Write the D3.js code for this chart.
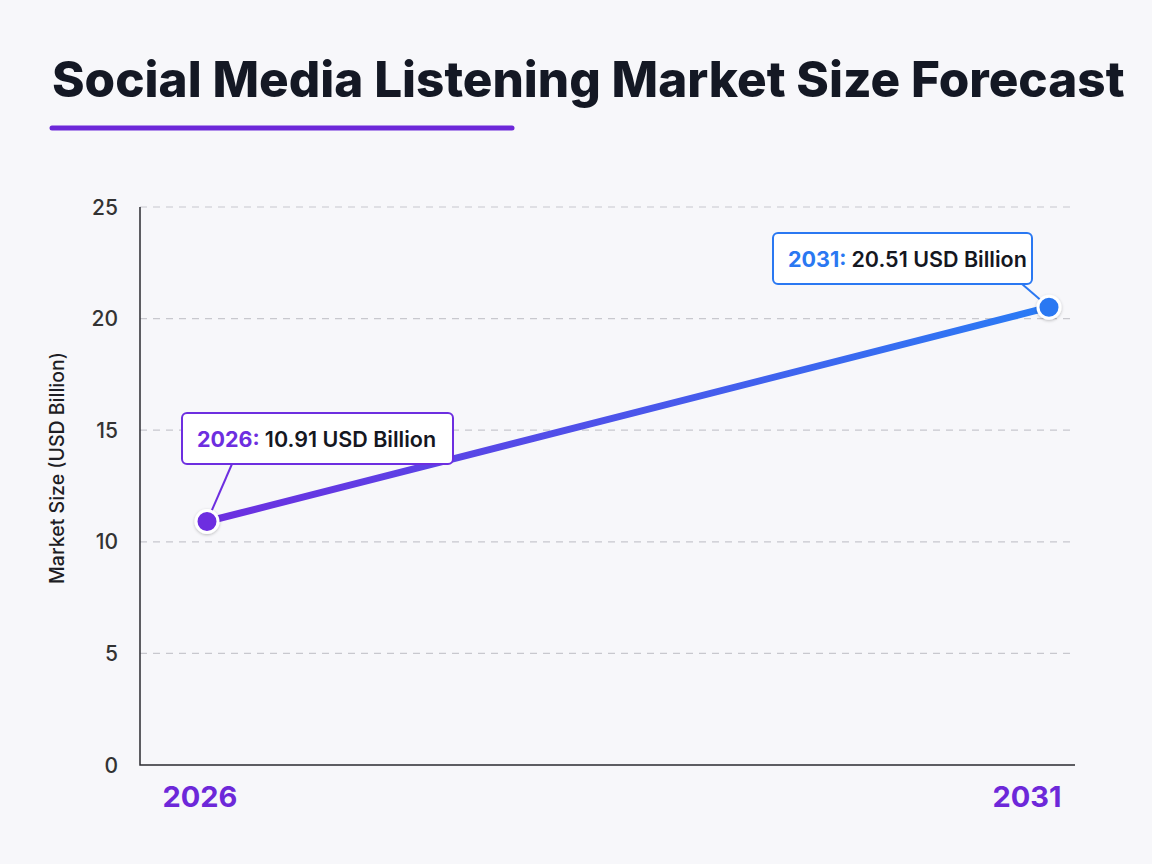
<!DOCTYPE html>
<html lang="en">
<head>
<meta charset="UTF-8">
<title>Social Media Listening Market Size Forecast</title>
<script src="https://cdn.jsdelivr.net/npm/d3@7"></script>
<style>
  body { margin: 0; background: #f7f7fa; }
  svg { display: block; }
  text { font-family: Inter, "Noto Sans", sans-serif; }
  .grid line { stroke: #c8c8ce; stroke-dasharray: 7 6; stroke-width: 1.2; }
  .ytick text { fill: #333; font-size: 21px; font-weight: 500; }
  .xtick text { fill: #6d28d9; font-size: 29px; font-weight: 700; }
</style>
</head>
<body>
<script>
// data
var years = [2026, 2031];
var marketSize = [10.91, 20.51];
var yTicks = [0, 5, 10, 15, 20, 25];
var pointColors = ["#6d2ee0", "#2a78f2"];

var width = 1152, height = 864;
var svg = d3.select("body").append("svg")
  .attr("width", width)
  .attr("height", height);

var defs = svg.append("defs");
var grad = defs.append("linearGradient")
  .attr("id", "lineGrad")
  .attr("gradientUnits", "userSpaceOnUse");
var shadow = defs.append("filter").attr("id", "shadow")
  .attr("x", "-50%").attr("y", "-50%").attr("width", "200%").attr("height", "200%");
shadow.append("feDropShadow").attr("dx", 0).attr("dy", 1).attr("stdDeviation", 1.5)
  .attr("flood-color", "#000").attr("flood-opacity", 0.25);

// title
var title = svg.append("text")
  .attr("x", 52).attr("y", 97)
  .attr("fill", "#141824")
  .style("font-size", "46px")
  .style("font-weight", 800)
  .text("Social Media Listening Market Size Forecast");
var tw = title.node().getComputedTextLength();
title.style("font-size", (46 * 1073 / tw) + "px");

svg.append("line")
  .attr("x1", 52).attr("x2", 512).attr("y1", 128).attr("y2", 128)
  .attr("stroke", "#6d28d9").attr("stroke-width", 5).attr("stroke-linecap", "round");

// scales
var plotL = 140, plotR = 1075, plotT = 207, plotB = 765;
var x = d3.scaleLinear().domain([2026, 2031]).range([207, 1049]);
var y = d3.scaleLinear().domain([0, 25]).range([plotB, plotT]);

// grid
svg.append("g").attr("class", "grid")
  .selectAll("line").data(yTicks.filter(function(d) { return d > 0; }))
  .enter().append("line")
  .attr("x1", plotL).attr("x2", plotR)
  .attr("y1", function(d) { return y(d); })
  .attr("y2", function(d) { return y(d); });

// y ticks
svg.append("g").attr("class", "ytick")
  .selectAll("text").data(yTicks)
  .enter().append("text")
  .attr("x", 118)
  .attr("y", function(d) { return y(d); })
  .attr("dy", "0.36em")
  .attr("text-anchor", "end")
  .text(function(d) { return d; });

// axes lines
svg.append("path")
  .attr("d", "M" + plotL + "," + plotT + "V" + plotB + "H" + plotR)
  .attr("fill", "none")
  .attr("stroke", "#2b2b30")
  .attr("stroke-width", 1.5);

// x ticks
svg.append("g").attr("class", "xtick")
  .selectAll("text").data(years)
  .enter().append("text")
  .attr("x", function(d, i) { return x(d) + (i === 0 ? -7 : -22); })
  .attr("y", 807)
  .attr("text-anchor", "middle")
  .text(function(d) { return d; });

// y axis title
svg.append("text")
  .attr("transform", "translate(64," + 468 + ") rotate(-90)")
  .attr("text-anchor", "middle")
  .attr("fill", "#1d1d24")
  .style("font-size", "19.5px")
  .style("font-weight", 500)
  .text("Market Size (USD Billion)");

// line
var pts = years.map(function(d, i) { return [x(d), y(marketSize[i])]; });
grad.attr("x1", pts[0][0]).attr("y1", pts[0][1]).attr("x2", pts[1][0]).attr("y2", pts[1][1]);
grad.append("stop").attr("offset", "0%").attr("stop-color", "#6d2ee0");
grad.append("stop").attr("offset", "100%").attr("stop-color", "#2a7cf5");

svg.append("path")
  .datum(pts)
  .attr("d", d3.line())
  .attr("fill", "none")
  .attr("stroke", "url(#lineGrad)")
  .attr("stroke-width", 7)
  .attr("stroke-linecap", "round");

// annotations
var notes = [
  { bx: 182, by: 413, bw: 271, bh: 51, lx: 232 },
  { bx: 773, by: 233, bw: 259, bh: 51, lx: 1022 }
];

notes.forEach(function(n, i) {
  var px = pts[i][0], py = pts[i][1];
  svg.append("line")
    .attr("x1", n.lx).attr("y1", n.by + n.bh)
    .attr("x2", px).attr("y2", py)
    .attr("stroke", pointColors[i]).attr("stroke-width", 2);
  svg.append("rect")
    .attr("x", n.bx).attr("y", n.by)
    .attr("width", n.bw).attr("height", n.bh)
    .attr("rx", 5)
    .attr("fill", "#fff")
    .attr("stroke", pointColors[i])
    .attr("stroke-width", 2);
  var t = svg.append("text")
    .attr("x", n.bx + 15).attr("y", n.by + 34)
    .style("font-size", "21.5px");
  t.append("tspan").attr("fill", pointColors[i]).style("font-weight", 700)
    .text(years[i] + ": ");
  t.append("tspan").attr("fill", "#15171f").style("font-weight", 600)
    .text(marketSize[i].toFixed(2) + " USD Billion");
});

// dots
svg.append("g").selectAll("circle").data(pts)
  .enter().append("circle")
  .attr("cx", function(d) { return d[0]; })
  .attr("cy", function(d) { return d[1]; })
  .attr("r", 11)
  .attr("fill", function(d, i) { return pointColors[i]; })
  .attr("stroke", "#fff")
  .attr("stroke-width", 3)
  .attr("filter", "url(#shadow)");
</script>
</body>
</html>
